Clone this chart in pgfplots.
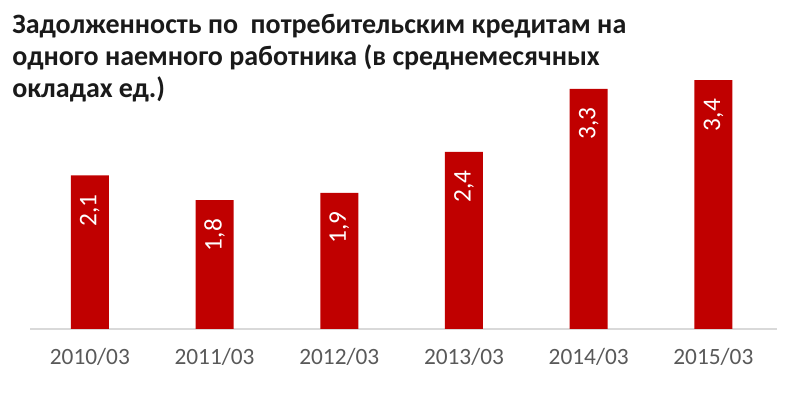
\documentclass[border=0pt]{standalone}
\usepackage{fontspec}
\setmainfont{Carlito}
\usepackage{pgfplots}
\pgfplotsset{compat=1.18}
\definecolor{barred}{HTML}{C00000}
\definecolor{axgray}{HTML}{D9D9D9}
\definecolor{txtgray}{HTML}{595959}
\definecolor{titlec}{HTML}{1A1A1A}
\begin{document}
\begin{tikzpicture}[x=0.75pt,y=0.75pt]
\path[use as bounding box] (0,0) rectangle (800,399);
\begin{scope}[every node/.style={anchor=base west, inner sep=0pt, text=titlec, font=\bfseries\fontsize{21}{24}\selectfont}]
\node at (12,365.7) {Задолженность по\ \ потребительским кредитам на};
\node at (12,333) {одного\ наемного работника (в среднемесячных};
\node at (12,301) {окладах ед.)};
\end{scope}
\begin{axis}[
  at={(22.5pt,52.5pt)}, anchor=south west,
  scale only axis, width=560.25pt, height=192.15pt,
  xmin=-0.48, xmax=5.51, ymin=0, ymax=3.5,
  axis x line*=bottom, axis y line=none, ytick=\empty,
  x axis line style={draw=axgray, line width=1pt},
  xtick={0,1,2,3,4,5},
  xticklabels={2010/03,2011/03,2012/03,2013/03,2014/03,2015/03},
  major tick length=0pt,
  xticklabel style={text=txtgray, font=\fontsize{17.5}{20}\selectfont, yshift=-11pt},
  ybar, bar width=28.5pt,
  /pgf/number format/use comma,
  /pgf/number format/fixed,
  /pgf/number format/fixed zerofill,
  /pgf/number format/precision=1,
  /pgf/number format/assume math mode=true,
  nodes near coords,
  every node near coord/.append style={yshift=-14pt, rotate=90, anchor=east, text=white, font=\fontsize{19}{21}\selectfont, inner sep=0pt},
  clip=false,
]
\addplot[fill=barred, draw=none] coordinates {(0,2.10) (1,1.76) (2,1.86) (3,2.42) (4,3.28) (5,3.40)};
\end{axis}
\end{tikzpicture}
\end{document}
